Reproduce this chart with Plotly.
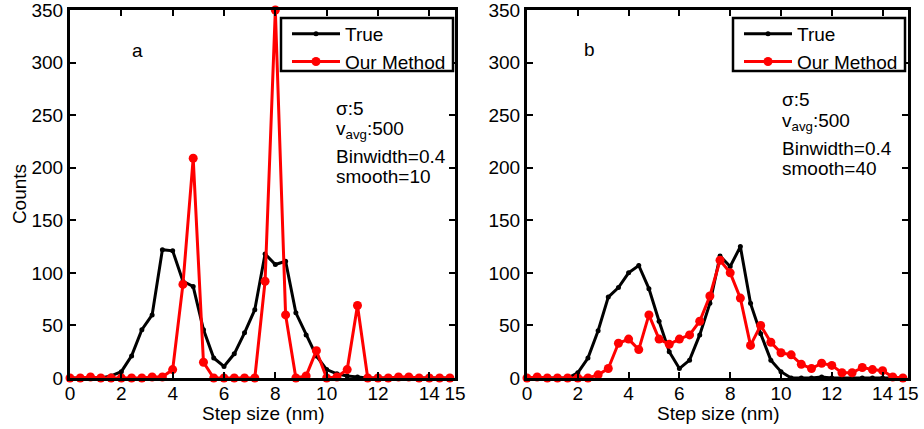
import plotly.graph_objects as go
from plotly.subplots import make_subplots

step_nm = [0.0, 0.4, 0.8, 1.2, 1.6, 2.0, 2.4, 2.8, 3.2, 3.6, 4.0, 4.4, 4.8, 5.2, 5.6,
           6.0, 6.4, 6.8, 7.2, 7.6, 8.0, 8.4, 8.8, 9.2, 9.6, 10.0, 10.4, 10.8, 11.2,
           11.6, 12.0, 12.4, 12.8, 13.2, 13.6, 14.0, 14.4, 14.8]

true_a = [0, 0, 0, 0, 2, 6, 21, 46, 60, 122, 121, 92, 87, 46, 19, 11, 23, 43, 65, 118,
          108, 111, 62, 41, 21, 8, 4, 2, 1, 0, 0, 0, 0, 1, 0, 0, 0, 0]
ours_a = [0, 0, 1, 0, 0, 0, 0, 0, 1, 1, 8, 89, 209, 15, 0, 0, 0, 0, 0, 92,
          350, 60, 0, 2, 26, 0, 1, 8, 69, 0, 0, 0, 1, 1, 0, 0, 0, 0]
true_b = [0, 0, 0, 0, 0, 5, 19, 45, 77, 86, 100, 107, 85, 54, 25, 9, 17, 41, 71, 116,
          106, 125, 71, 42, 17, 6, 0, 0, 0, 1, 0, 0, 0, 0, 0, 0, 0, 0]
ours_b = [0, 1, 0, 0, 0, 0, 0, 3, 9, 33, 37, 27, 60, 37, 32, 37, 41, 54, 78, 112,
          100, 76, 31, 50, 34, 24, 22, 13, 9, 14, 12, 5, 5, 10, 8, 7, 1, 0]

x_ticks = [0, 2, 4, 6, 8, 10, 12, 14, 15]
y_ticks = [0, 50, 100, 150, 200, 250, 300, 350]

W, H = 924, 429
FONT = "Liberation Sans, Arial, sans-serif"
FS = 19

fig = make_subplots(rows=1, cols=2)

panels = [(true_a, ours_a, 1, "legend"), (true_b, ours_b, 2, "legend2")]
for tr, ou, col, lg in panels:
    fig.add_trace(go.Scatter(x=step_nm, y=tr, mode="lines+markers", name="True",
                             line=dict(color="black", width=3),
                             marker=dict(color="black", size=5),
                             cliponaxis=False, legend=lg), row=1, col=col)
    fig.add_trace(go.Scatter(x=step_nm, y=ou, mode="lines+markers", name="Our Method",
                             line=dict(color="#ff0000", width=3),
                             marker=dict(color="#ff0000", size=9),
                             cliponaxis=False, legend=lg), row=1, col=col)

y0, y1 = 1 - 378 / H, 1 - 10 / H
doms = [(70 / W, 455 / W), (527 / W, 908 / W)]
axis_common = dict(showline=True, linecolor="black", linewidth=3, mirror="ticks",
                   ticks="inside", ticklen=6, tickwidth=2, tickcolor="black",
                   showgrid=False, zeroline=False, automargin=False,
                   ticklabeloverflow="allow",
                   tickfont=dict(family=FONT, size=FS, color="black"))
for i, (d0, d1) in enumerate(doms, start=1):
    fig.update_xaxes(domain=[d0, d1], range=[0, 15], tickvals=x_ticks,
                     ticktext=[str(t) for t in x_ticks], ticklabelstandoff=-4,
                     **axis_common, row=1, col=i)
    fig.update_yaxes(domain=[y0, y1], range=[0, 350], tickvals=y_ticks,
                     **axis_common, row=1, col=i)
fig.update_yaxes(title=dict(text="Counts", standoff=0,
                            font=dict(family=FONT, size=FS, color="black")),
                 row=1, col=1)

leg_common = dict(bgcolor="rgba(0,0,0,0)", borderwidth=0,
                  font=dict(family=FONT, size=19, color="black"),
                  xanchor="left", yanchor="top", tracegroupgap=0, itemwidth=48)
fig.update_layout(
    width=W, height=H, margin=dict(l=0, r=0, t=0, b=0, autoexpand=False),
    paper_bgcolor="white", plot_bgcolor="white",
    font=dict(family=FONT, size=FS, color="black"),
    legend=dict(x=287 / W, y=1 - 15 / H, **leg_common),
    legend2=dict(x=739 / W, y=1 - 15 / H, **leg_common),
)

# legend frames
for (lx0, lx1) in [(281, 453), (733, 905)]:
    fig.add_shape(type="rect", xref="paper", yref="paper",
                  x0=lx0 / W, x1=lx1 / W, y0=1 - 71 / H, y1=1 - 18 / H,
                  line=dict(color="black", width=2.5), fillcolor="white", layer="above")

def txt(px, py, s, anchor="middle"):
    fig.add_annotation(x=px / W, y=1 - py / H, xref="paper", yref="paper", text=s,
                       showarrow=False, xanchor="left", yanchor=anchor,
                       font=dict(family=FONT, size=FS, color="black"))

def ctext(px, py, s):
    fig.add_annotation(x=px / W, y=1 - py / H, xref="paper", yref="paper", text=s,
                       showarrow=False, xanchor="center", yanchor="middle",
                       font=dict(family=FONT, size=FS, color="black"))

ctext(263, 413, "Step size (nm)")
ctext(718, 413, "Step size (nm)")

txt(130, 50, "a")
txt(582, 49, "b")
for (px, ys, sm) in [(334, (108, 130, 156, 176), "smooth=10"),
                     (780, (99, 122, 148, 168), "smooth=40")]:
    txt(px, ys[0], "σ:5")
    txt(px, ys[1], "v<sub>avg</sub>:500")
    txt(px, ys[2], "Binwidth=0.4")
    txt(px, ys[3], sm)

fig.write_html("out.html")
